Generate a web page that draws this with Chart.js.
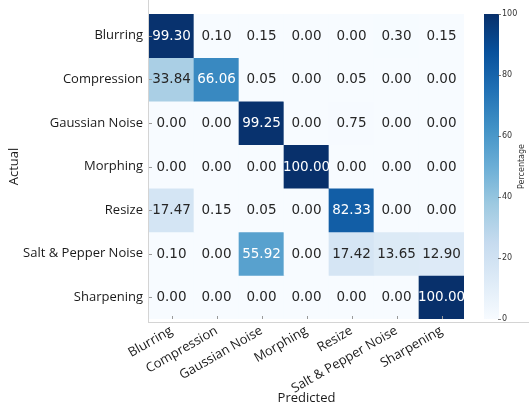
<!DOCTYPE html>
<html>
<head>
<meta charset="utf-8">
<script src="https://cdn.jsdelivr.net/npm/chart.js@4/dist/chart.umd.min.js"></script>
<style>
html,body{margin:0;padding:0;background:#fff;}
#wrap{width:529px;height:411px;position:relative;}
</style>
</head>
<body>
<div id="wrap"><canvas id="c" width="529" height="411"></canvas></div>
<script>
// ---- data ----
const categories = ['Blurring', 'Compression', 'Gaussian Noise', 'Morphing', 'Resize', 'Salt & Pepper Noise', 'Sharpening'];
const blurring      = [99.30, 0.10, 0.15, 0.00, 0.00, 0.30, 0.15];
const compression   = [33.84, 66.06, 0.05, 0.00, 0.05, 0.00, 0.00];
const gaussianNoise = [0.00, 0.00, 99.25, 0.00, 0.75, 0.00, 0.00];
const morphing      = [0.00, 0.00, 0.00, 100.00, 0.00, 0.00, 0.00];
const resize        = [17.47, 0.15, 0.05, 0.00, 82.33, 0.00, 0.00];
const saltPepper    = [0.10, 0.00, 55.92, 0.00, 17.42, 13.65, 12.90];
const sharpening    = [0.00, 0.00, 0.00, 0.00, 0.00, 0.00, 100.00];
const colorbarTicks = [0, 20, 40, 60, 80, 100];
const xTitle = 'Predicted';
const yTitle = 'Actual';
const cbTitle = 'Percentage';

const matrix = [blurring, compression, gaussianNoise, morphing, resize, saltPepper, sharpening];

// Matplotlib "Blues" colormap stops
const bluesStops = ['#f7fbff', '#deebf7', '#c6dbef', '#9ecae1', '#6baed6', '#4292c6', '#2171b5', '#08519c', '#08306b'];
function hexToRgb(h) { return [parseInt(h.slice(1,3),16), parseInt(h.slice(3,5),16), parseInt(h.slice(5,7),16)]; }
function blues(v) {
  let t = Math.max(0, Math.min(1, v / 100)) * (bluesStops.length - 1);
  const i = Math.min(Math.floor(t), bluesStops.length - 2);
  const f = t - i;
  const a = hexToRgb(bluesStops[i]), b = hexToRgb(bluesStops[i + 1]);
  const c = a.map((x, k) => Math.round(x + (b[k] - x) * f));
  return 'rgb(' + c.join(',') + ')';
}

const datasets = matrix.map((row, i) => ({
  label: categories[i],
  data: row.map(() => [i, i + 1]),
  backgroundColor: row.map(v => blues(v)),
  borderWidth: 0,
  barPercentage: 1,
  categoryPercentage: 1,
  grouped: false
}));

const LABEL_FONT = '"Open Sans", sans-serif';
const VALUE_FONT = '"DejaVu Sans", sans-serif';

const heatPlugin = {
  id: 'heat',
  afterDatasetsDraw(chart) {
    const ctx = chart.ctx;
    const area = chart.chartArea;
    ctx.save();
    // tick marks inside heatmap
    ctx.strokeStyle = '#9a9a9a';
    ctx.lineWidth = 1;
    const xs = chart.scales.x, ys = chart.scales.y;
    categories.forEach((c, j) => {
      const px = Math.round(xs.getPixelForValue(j)) + 0.5;
      ctx.beginPath(); ctx.moveTo(px, area.bottom - 3); ctx.lineTo(px, area.bottom); ctx.stroke();
      const py = Math.round(ys.getPixelForValue(j + 0.5)) + 0.5;
      ctx.beginPath(); ctx.moveTo(area.left, py); ctx.lineTo(area.left + 3, py); ctx.stroke();
    });
    // values
    ctx.font = '13.5px ' + VALUE_FONT;
    ctx.textAlign = 'center';
    ctx.textBaseline = 'middle';
    matrix.forEach((row, i) => {
      const meta = chart.getDatasetMeta(i);
      meta.data.forEach((bar, j) => {
        const p = bar.getProps(['x', 'y', 'base'], true);
        const v = row[j];
        ctx.fillStyle = v > 50 ? '#ffffff' : '#262626';
        ctx.fillText(v.toFixed(2), p.x, (p.y + p.base) / 2 + 0.5);
      });
    });
    ctx.restore();
  },
  afterDraw(chart) {
    const ctx = chart.ctx;
    const area = chart.chartArea;
    const cb = chart.scales.cb;
    ctx.save();
    // frame lines
    ctx.strokeStyle = '#d4d4d4';
    ctx.lineWidth = 1;
    ctx.beginPath(); ctx.moveTo(area.left - 0.5, 0); ctx.lineTo(area.left - 0.5, area.bottom + 4); ctx.stroke();
    ctx.beginPath(); ctx.moveTo(area.left - 1, area.bottom + 3.5); ctx.lineTo(chart.width, area.bottom + 3.5); ctx.stroke();
    // colorbar
    const x0 = area.right + 20, x1 = area.right + 35;
    const yTop = cb.getPixelForValue(100), yBot = cb.getPixelForValue(0);
    const g = ctx.createLinearGradient(0, yBot, 0, yTop);
    bluesStops.forEach((c, k) => g.addColorStop(k / (bluesStops.length - 1), c));
    ctx.fillStyle = g;
    ctx.fillRect(x0, yTop, x1 - x0, yBot - yTop);
    ctx.strokeStyle = '#555';
    ctx.lineWidth = 0.8;
    colorbarTicks.forEach(t => {
      const py = Math.round(cb.getPixelForValue(t)) + 0.5;
      ctx.beginPath(); ctx.moveTo(x1 - 1, py); ctx.lineTo(x1 + 2, py); ctx.stroke();
    });
    // colorbar title
    ctx.fillStyle = '#333';
    ctx.font = '8px ' + VALUE_FONT;
    ctx.textAlign = 'center';
    ctx.textBaseline = 'middle';
    ctx.translate(522, (yTop + yBot) / 2);
    ctx.rotate(-Math.PI / 2);
    ctx.fillText(cbTitle, 0, 0);
    ctx.restore();
  }
};

function noVPad(s) { s.paddingTop = 0; s.paddingBottom = 0; }

new Chart(document.getElementById('c'), {
  type: 'bar',
  data: { labels: categories, datasets },
  options: {
    responsive: false,
    animation: false,
    devicePixelRatio: 1,
    layout: { padding: { top: 14, left: 0, right: 0, bottom: 0 } },
    plugins: { legend: { display: false }, tooltip: { enabled: false } },
    scales: {
      x: {
        type: 'category',
        offset: true,
        grid: { display: false, drawTicks: false },
        border: { display: false },
        ticks: { color: '#1a1a1a', font: { family: LABEL_FONT, size: 13 }, maxRotation: 30, minRotation: 30, padding: 4, autoSkip: false },
        title: { display: true, text: xTitle, color: '#1a1a1a', font: { family: LABEL_FONT, size: 13 }, padding: { top: 0, bottom: 5 } },
        afterFit(s) { s.height = 92; s.paddingLeft = 0; s.paddingRight = 0; }
      },
      y: {
        type: 'linear',
        min: 0, max: 7,
        reverse: true,
        grid: { display: false, drawTicks: false },
        border: { display: false },
        afterBuildTicks(s) { s.ticks = categories.map((c, i) => ({ value: i + 0.5 })); },
        ticks: {
          color: '#1a1a1a',
          font: { family: LABEL_FONT, size: 13 },
          padding: 6,
          autoSkip: false,
          callback(v) { return categories[Math.floor(v)]; }
        },
        title: { display: true, text: yTitle, color: '#1a1a1a', font: { family: LABEL_FONT, size: 13 }, padding: { top: 6, bottom: 0 } },
        afterFit(s) { s.width = 149; noVPad(s); }
      },
      cb: {
        type: 'linear',
        position: 'right',
        min: 0, max: 100,
        grid: { display: false, drawTicks: false },
        border: { display: false },
        afterBuildTicks(s) { s.ticks = colorbarTicks.map(v => ({ value: v })); },
        ticks: { color: '#333', font: { family: VALUE_FONT, size: 8 }, padding: 38 },
        afterFit(s) { s.width = 65; noVPad(s); }
      }
    }
  },
  plugins: [heatPlugin]
});
</script>
</body>
</html>
